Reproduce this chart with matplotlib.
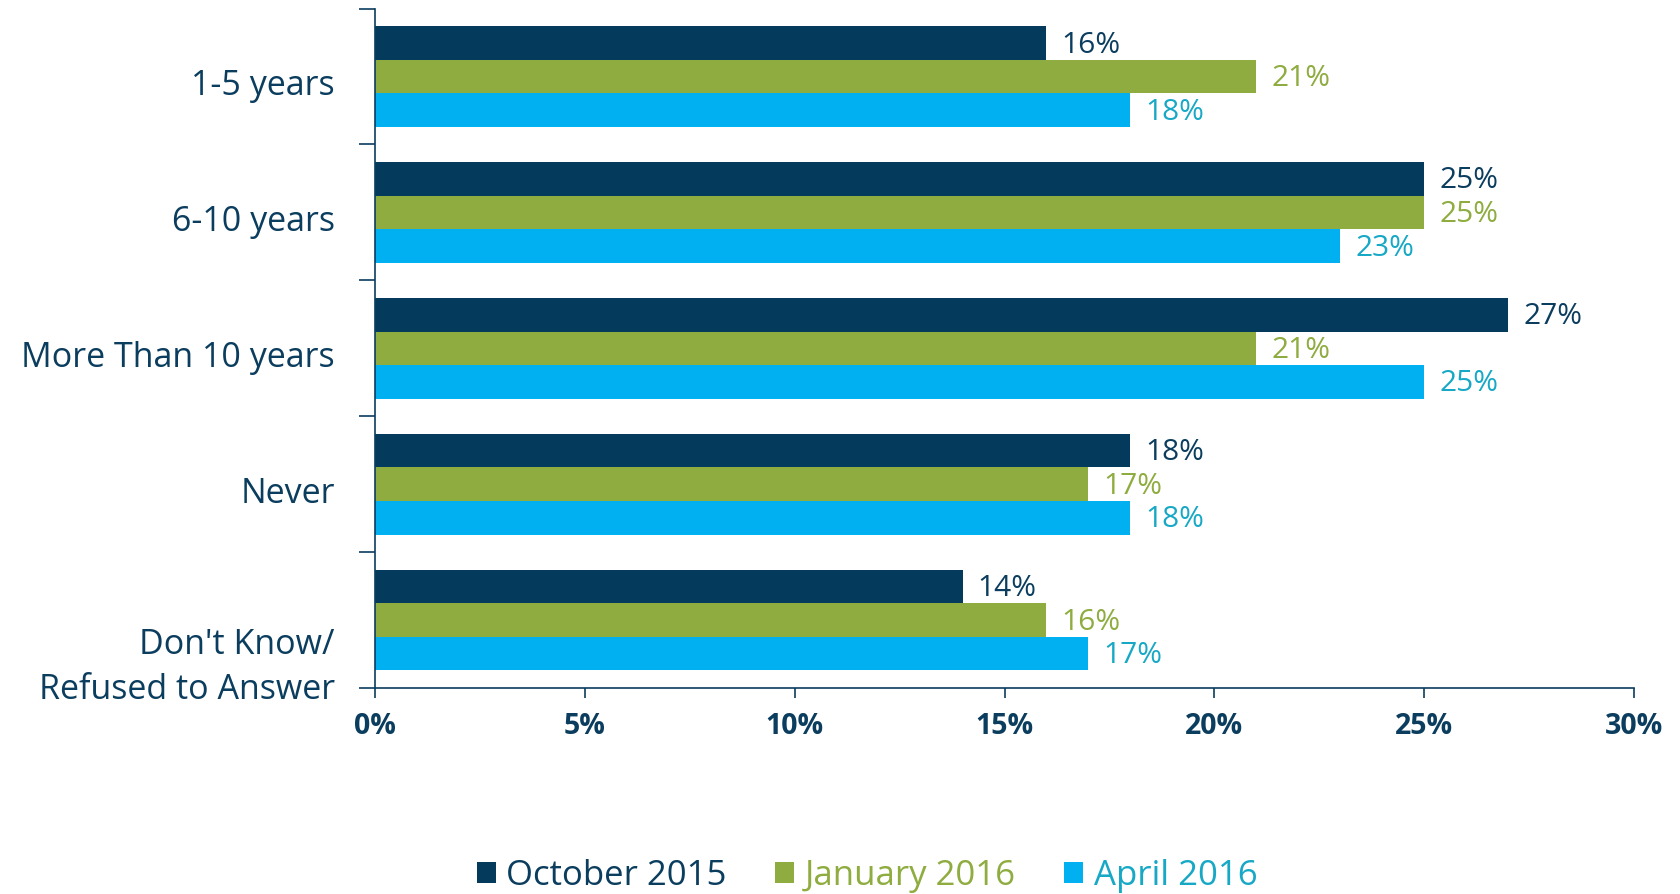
import matplotlib
matplotlib.use("Agg")
import matplotlib.pyplot as plt
import matplotlib.transforms as mtransforms
import numpy as np
from matplotlib.patches import Patch

categories = ["1-5 years", "6-10 years", "More Than 10 years", "Never", "Don't Know/\nRefused to Answer"]
series_names = ["October 2015", "January 2016", "April 2016"]
oct_2015 = [16, 25, 27, 18, 14]
jan_2016 = [21, 25, 21, 17, 16]
apr_2016 = [18, 23, 25, 18, 17]
x_ticks = [0, 5, 10, 15, 20, 25, 30]
x_tick_labels = ["0%", "5%", "10%", "15%", "20%", "25%", "30%"]

bar_colors = ["#043A5C", "#8EAC3F", "#00B0F0"]
text_colors = ["#0B3D5E", "#8EAC3F", "#17A8C6"]
navy = "#0B3D5E"

plt.rcParams['font.family'] = ['Open Sans', 'DejaVu Sans']

fig = plt.figure(figsize=(16.8, 8.94), dpi=100)
ax = fig.add_axes([375/1680, 1-688/894, (1634-375)/1680, (688-8.6)/894])

y = np.arange(len(categories))
h = 0.247
data = [oct_2015, jan_2016, apr_2016]
for i, vals in enumerate(data):
    ypos = y + (i - 1) * h
    ax.barh(ypos, vals, height=h, color=bar_colors[i], label=series_names[i])
    for yy, v in zip(ypos, vals):
        ax.annotate(f"{v}%", (v, yy), xytext=(11, -1.5), textcoords="offset points",
                    va="center", ha="left", fontsize=21.5, color=text_colors[i])

ax.set_xlim(0, 30)
ax.set_ylim(len(categories) - 0.5, -0.5)

# y axis: boundary ticks, category labels as minor ticks
ax.set_yticks(np.arange(-0.5, len(categories), 1.0))
ax.set_yticklabels([])
ax.set_yticks(y, minor=True)
ax.set_yticklabels(categories, minor=True, fontsize=24.5, color=navy)
ax.tick_params(axis="y", which="major", direction="out", length=11.5, width=1.2, color=navy)
ax.tick_params(axis="y", which="minor", length=0, pad=29)

ax.set_xticks(x_ticks)
ax.set_xticklabels(x_tick_labels, fontsize=20.5, fontweight="bold", color=navy)
ax.tick_params(axis="x", direction="out", length=7, width=1.2, color=navy, pad=10)

for s in ["top", "right"]:
    ax.spines[s].set_visible(False)
for s in ["left", "bottom"]:
    ax.spines[s].set_color(navy)
    ax.spines[s].set_linewidth(1.2)

# nudge category labels slightly downward; the two-line label further down
lbls = ax.get_yticklabels(minor=True)
for lb in lbls[:-1]:
    lb.set_transform(lb.get_transform() + mtransforms.ScaledTranslation(0, -5.5/100, fig.dpi_scale_trans))
last = lbls[-1]
last.set_linespacing(1.42)
last.set_transform(last.get_transform() + mtransforms.ScaledTranslation(0, -38/100, fig.dpi_scale_trans))

handles = [Patch(facecolor=c) for c in bar_colors]
leg = fig.legend(handles, series_names, loc="center", bbox_to_anchor=(867/1680, 1-876/894),
                 ncol=3, frameon=False, fontsize=25, handlelength=0.55, handleheight=0.55,
                 handletextpad=0.3, columnspacing=1.4)
for t, c in zip(leg.get_texts(), text_colors):
    t.set_color(c)

fig.savefig("out.png", dpi=100)
